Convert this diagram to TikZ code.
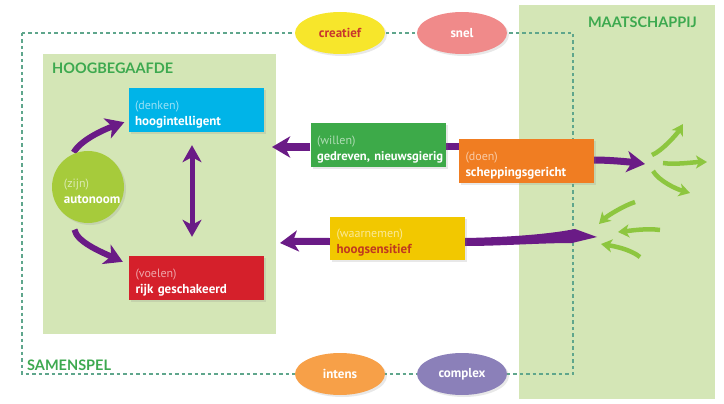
\documentclass[tikz,border=0pt]{standalone}
\usepackage{fontspec}
\setmainfont{PT Sans}
\newfontfamily\titlefont{Lato}
\usetikzlibrary{shapes.geometric,arrows.meta,calc,shadows}
\definecolor{bggreen}{HTML}{D4E6B6}
\definecolor{framecol}{HTML}{5FA68C}
\definecolor{titlegreen}{HTML}{3DA94F}
\definecolor{purp}{HTML}{6A1B86}
\definecolor{cblue}{HTML}{00B4E8}
\definecolor{cred}{HTML}{D5202B}
\definecolor{cgreen}{HTML}{3DAA49}
\definecolor{corange}{HTML}{F07D22}
\definecolor{cyellow}{HTML}{F2C800}
\definecolor{ccircle}{HTML}{A6CB3B}
\definecolor{ecreat}{HTML}{F7E62B}
\definecolor{ecreattext}{HTML}{C8372D}
\definecolor{esnel}{HTML}{F08A8A}
\definecolor{eintens}{HTML}{F7A048}
\definecolor{ecomplex}{HTML}{8B80B9}
\definecolor{lgreen}{HTML}{8DC63F}
\definecolor{sensred}{HTML}{C0391F}
\newcommand\subtxt[2]{\rule{0pt}{17pt}\mbox{\fontsize{12}{16}\selectfont\textcolor{#1}{#2}}}
\newcommand\maintxt[1]{\mbox{\bfseries #1}}
\pgfdeclarelayer{back}\pgfdeclarelayer{mid}\pgfsetlayers{back,mid,main}
\tikzset{
  area/.style={rectangle, fill=bggreen, inner sep=0pt},
  areatitle/.style={font=\titlefont\bfseries\fontsize{14.5}{16}\selectfont, text=titlegreen, inner sep=0pt},
  framel/.style={draw=framecol, line width=1.2pt, dash pattern=on 3.5pt off 3pt},
  softshadow/.style={drop shadow={opacity=0.18, shadow xshift=2pt, shadow yshift=-2pt}},
  cbox/.style={rectangle, fill=#1, minimum width=135pt, minimum height=44pt, text width=122pt,
    inner xsep=6.5pt, inner ysep=0pt, align=left, text=white, font=\fontsize{13}{16}\selectfont, softshadow},
  ell/.style={ellipse, fill=#1, minimum width=90pt, minimum height=42pt, inner sep=0pt,
    text=white, font=\bfseries\fontsize{13}{14}\selectfont, softshadow},
  circ/.style={circle, fill=ccircle, minimum size=72pt, inner sep=0pt, text width=58pt,
    align=left, text=white, font=\fontsize{13}{16}\selectfont, softshadow},
  parrow/.style={draw=purp, line width=7pt, -{Stealth[length=18pt,width=21pt,inset=5pt]}},
  pline/.style={draw=purp, line width=7pt},
  garrow/.style={draw=lgreen, line width=4.5pt, -{Stealth[length=11pt,width=13pt,inset=3pt]}}
}
\begin{document}
\begin{tikzpicture}[x=1pt,y=-1pt]
\useasboundingbox (0,0) rectangle (724,404);
\begin{pgfonlayer}{back}
  \node[area, minimum width=233pt, minimum height=280pt] (hb) at (159.5,194) {};
  \node[area, minimum width=196pt, minimum height=394pt] (ms) at (617,202) {};
  \coordinate (ftl) at (22,33);
  \coordinate (fbr) at (573,374);
  \draw[framel] (ftl) rectangle (fbr);
\end{pgfonlayer}

\node[areatitle, anchor=west] (hbt) at (52,68) {HOOGBEGAAFDE};
\node[areatitle, anchor=east] (mst) at (697,22) {MAATSCHAPPIJ};
\node[areatitle, anchor=west] (sst) at (27,365) {SAMENSPEL};

\node[ell=ecreat, text=ecreattext] (creatief) at (340,33) {creatief};
\node[ell=esnel] (snel) at (462,33) {snel};
\node[ell=eintens] (intens) at (340,374) {intens};
\node[ell=ecomplex] (complex) at (462,374) {complex};

\node[cbox=cblue] (denken) at (196,110) {\subtxt{white!60!cblue}{(denken)}\\\maintxt{hoogintelligent}};
\node[cbox=cred] (voelen) at (196.5,278) {\subtxt{white!60!cred}{(voelen)}\\\maintxt{rijk geschakeerd}};
\node[cbox=cgreen] (willen) at (378,145) {\subtxt{white!60!cgreen}{(willen)}\\{\fontsize{12.6}{16}\selectfont\maintxt{gedreven, nieuwsgierig}}};
\node[cbox=corange] (doen) at (526.5,161) {\subtxt{white!60!corange}{(doen)}\\\maintxt{scheppingsgericht}};
\node[cbox=cyellow, minimum height=43pt] (waarnemen) at (397.5,238.5) {\subtxt{white!60!cyellow}{(waarnemen)}\\\textcolor{sensred}{\maintxt{hoogsensitief}}};
\node[circ] (auto) at (88,187) {\hspace*{5pt}\subtxt{white!60!ccircle}{(zijn)}\\\hspace*{5pt}\maintxt{autonoom}};

\coordinate (wtip) at (272,147);
\coordinate (dtip) at (645,164);
\coordinate (sens) at (597,237);
\coordinate (wltip) at (280,243);
\coordinate (go1a) at (652,155); \coordinate (go1b) at (683,124);
\coordinate (go2a) at (663,163); \coordinate (go2b) at (707,162);
\coordinate (go3a) at (653,171); \coordinate (go3b) at (690,193);
\coordinate (gi1a) at (635,202); \coordinate (gi1b) at (599,224);
\coordinate (gi2a) at (660,230); \coordinate (gi2b) at (618,232);
\coordinate (gi3a) at (640,257); \coordinate (gi3b) at (601,244);

\begin{pgfonlayer}{mid}
  \draw[parrow, line width=6pt, shorten <=2pt] (auto.115) .. controls +(8,-14) and +(-22,8) .. ($(denken.south west)+(-4,-10)$);
  \draw[parrow, line width=6pt, shorten <=10pt] (auto.245) .. controls +(4,22) and +(-22,-10) .. ($(voelen.north west)+(-6,6)$);
  \draw[parrow, line width=5pt, {Stealth[length=17pt,width=19pt,inset=5pt]}-{Stealth[length=17pt,width=19pt,inset=5pt]}]
    ($(denken.south)+(-4,13)$) -- ($(voelen.north)+(-4.5,-19)$);
  \draw[parrow, line width=8pt] ($(willen.west)+(0,2)$) -- (wtip);
  \draw[pline] ($(willen.east)+(0,2)$) -- ($(willen.east -| doen.west)+(0,2)$);
  \draw[parrow] ($(doen.east)+(0,-1)$) .. controls +(15,0) and +(-15,-2) .. (dtip);
  \fill[purp] ($(waarnemen.east)+(0,-0.5)$) .. controls (520,237) and (555,233) .. (575,229)
     -- (sens) -- (572,243) .. controls (540,243) and (500,246) .. ($(waarnemen.east)+(0,7.5)$) -- cycle;
  \draw[parrow] ($(waarnemen.west)+(0,3)$) .. controls +(-20,0) and +(18,-2) .. (wltip);
  \draw[garrow] (go1a) .. controls +(10,-4) and +(-6,10) .. (go1b);
  \draw[garrow] (go2a) .. controls +(12,2) and +(-12,0) .. (go2b);
  \draw[garrow] (go3a) .. controls +(6,10) and +(-14,-4) .. (go3b);
  \draw[garrow] (gi1a) .. controls +(-12,4) and +(8,-8) .. (gi1b);
  \draw[garrow] (gi2a) .. controls +(-14,-2) and +(10,-1) .. (gi2b);
  \draw[garrow] (gi3a) .. controls +(-10,-8) and +(12,2) .. (gi3b);
\end{pgfonlayer}
\end{tikzpicture}
\end{document}
